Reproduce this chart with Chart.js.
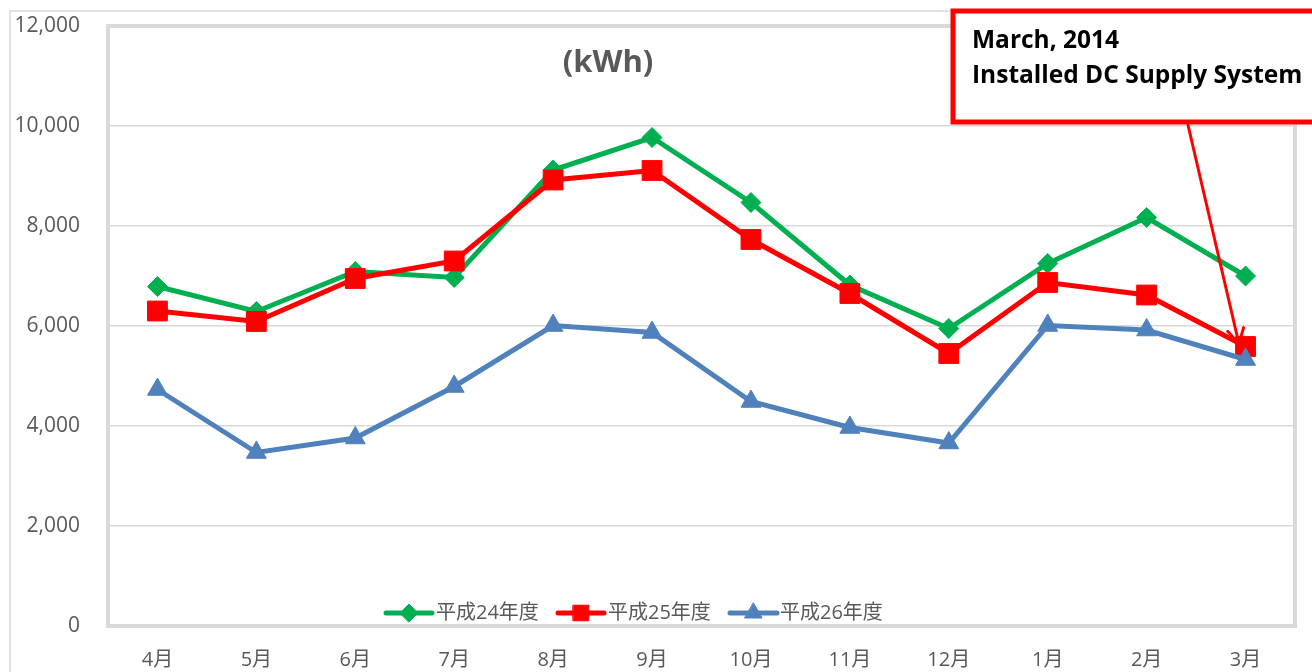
<!DOCTYPE html>
<html>
<head>
<meta charset="utf-8">
<script src="https://cdn.jsdelivr.net/npm/chart.js@4.4.0/dist/chart.umd.min.js"></script>
<style>
  html, body { margin: 0; padding: 0; background: #ffffff; }
  #wrap { width: 1312px; height: 672px; position: relative; }
</style>
</head>
<body>
<div id="wrap"><canvas id="kwhChart" width="1312" height="672"></canvas></div>
<script>
// chart data
const months = ['4月', '5月', '6月', '7月', '8月', '9月', '10月', '11月', '12月', '1月', '2月', '3月'];
const seriesNames = ['平成24年度', '平成25年度', '平成26年度'];
const h24 = [6790, 6290, 7090, 6970, 9120, 9770, 8470, 6820, 5950, 7250, 8170, 7000];
const h25 = [6300, 6090, 6950, 7300, 8920, 9110, 7730, 6650, 5450, 6870, 6620, 5590];
const h26 = [4730, 3470, 3760, 4790, 6010, 5870, 4490, 3970, 3660, 6010, 5920, 5330];
const yTicks = [0, 2000, 4000, 6000, 8000, 10000, 12000];
const unitLabel = '(kWh)';
const noteLines = ['March, 2014', 'Installed DC Supply System'];

const GREEN = '#00b050';
const RED = '#ff0000';
const BLUE = '#4f81bd';
const GRID = '#d9d9d9';
const TEXT = '#595959';
const FONT = '"Open Sans", "Noto Sans CJK JP", sans-serif';

// extra drawing: plot frame, outer frame, title, legend, note box and arrow
const decorPlugin = {
    id: 'decor',
    beforeDatasetsDraw(chart) {
        const ctx = chart.ctx;
        const a = chart.chartArea;
        ctx.save();
        ctx.strokeStyle = GRID;
        ctx.lineWidth = 4;
        ctx.strokeRect(a.left, a.top, a.right - a.left, a.bottom - a.top);
        ctx.restore();
    },
    afterDraw(chart) {
        const ctx = chart.ctx;
        ctx.save();

        // outer frame
        ctx.strokeStyle = GRID;
        ctx.lineWidth = 1.5;
        ctx.beginPath();
        ctx.moveTo(10, 680);
        ctx.lineTo(10, 11);
        ctx.lineTo(1320, 11);
        ctx.stroke();

        // unit title
        ctx.fillStyle = TEXT;
        ctx.font = 'bold 31px ' + FONT;
        ctx.textAlign = 'center';
        ctx.textBaseline = 'middle';
        ctx.fillText(unitLabel, 608, 63);

        // legend
        const items = [
            { name: seriesNames[0], color: GREEN, style: 'rectRot', r: 9, x0: 386, x1: 432, tx: 436 },
            { name: seriesNames[1], color: RED, style: 'rect', r: 11, x0: 558, x1: 604, tx: 608 },
            { name: seriesNames[2], color: BLUE, style: 'triangle', r: 10, x0: 730, x1: 777, tx: 780 }
        ];
        const ly = 613;
        items.forEach(function(it) {
            ctx.strokeStyle = it.color;
            ctx.lineWidth = 5;
            ctx.lineCap = 'round';
            ctx.beginPath();
            ctx.moveTo(it.x0, ly);
            ctx.lineTo(it.x1, ly);
            ctx.stroke();
            ctx.fillStyle = it.color;
            ctx.lineWidth = 1;
            Chart.helpers.drawPoint(ctx, { pointStyle: it.style, radius: it.r, borderWidth: 1 }, (it.x0 + it.x1) / 2, ly);
            ctx.fillStyle = TEXT;
            ctx.font = '20px ' + FONT;
            ctx.textAlign = 'left';
            ctx.textBaseline = 'middle';
            ctx.fillText(it.name, it.tx, ly);
        });

        // note box
        ctx.fillStyle = '#ffffff';
        ctx.fillRect(953, 11, 400, 111);
        ctx.strokeStyle = RED;
        ctx.lineWidth = 5;
        ctx.lineCap = 'butt';
        ctx.strokeRect(953, 11, 400, 111);
        ctx.fillStyle = '#000000';
        ctx.font = 'bold 24.5px ' + FONT;
        ctx.textAlign = 'left';
        ctx.textBaseline = 'alphabetic';
        ctx.fillText(noteLines[0], 972, 48);
        ctx.fillText(noteLines[1], 972, 83);

        // arrow from the note to the March point
        const tipX = 1239, tipY = 344;
        const fromX = 1188, fromY = 125;
        ctx.strokeStyle = RED;
        ctx.lineWidth = 3;
        ctx.lineCap = 'round';
        ctx.beginPath();
        ctx.moveTo(fromX, fromY);
        ctx.lineTo(tipX, tipY);
        ctx.stroke();
        const ang = Math.atan2(tipY - fromY, tipX - fromX);
        const hl = 17;
        ctx.beginPath();
        ctx.moveTo(tipX - hl * Math.cos(ang - 0.5), tipY - hl * Math.sin(ang - 0.5));
        ctx.lineTo(tipX, tipY);
        ctx.lineTo(tipX - hl * Math.cos(ang + 0.5), tipY - hl * Math.sin(ang + 0.5));
        ctx.stroke();

        ctx.restore();
    }
};

function makeDataset(label, data, color, style, radius, order) {
    return {
        label: label,
        data: data,
        borderColor: color,
        backgroundColor: color,
        borderWidth: 5,
        pointStyle: style,
        pointRadius: radius,
        pointHoverRadius: radius,
        pointBorderWidth: 1,
        pointBackgroundColor: color,
        pointBorderColor: color,
        tension: 0,
        fill: false,
        order: order
    };
}

const ctx = document.getElementById('kwhChart').getContext('2d');
new Chart(ctx, {
    type: 'line',
    data: {
        labels: months,
        datasets: [
            makeDataset(seriesNames[0], h24, GREEN, 'rectRot', 10, 3),
            makeDataset(seriesNames[1], h25, RED, 'rect', 14, 2),
            makeDataset(seriesNames[2], h26, BLUE, 'triangle', 11.5, 1)
        ]
    },
    options: {
        responsive: false,
        animation: false,
        layout: {
            padding: { left: 0, right: 17, top: 26, bottom: 0 }
        },
        scales: {
            x: {
                offset: true,
                grid: { display: false },
                border: { display: false },
                ticks: {
                    color: TEXT,
                    font: { family: FONT, size: 20 },
                    padding: 14,
                    maxRotation: 0
                },
                afterFit: function(scale) {
                    scale.height = 46;
                    scale.paddingLeft = 0;
                    scale.paddingRight = 0;
                }
            },
            y: {
                min: yTicks[0],
                max: yTicks[yTicks.length - 1],
                afterBuildTicks: function(scale) {
                    scale.ticks = yTicks.map(function(v) { return { value: v }; });
                },
                grid: { color: GRID, lineWidth: 1.5, drawTicks: false },
                border: { display: false },
                ticks: {
                    color: TEXT,
                    font: { family: FONT, size: 21 },
                    padding: 28,
                    callback: function(v) { return v.toLocaleString('en-US'); }
                },
                afterFit: function(scale) {
                    scale.width = 108;
                    scale.paddingTop = 0;
                    scale.paddingBottom = 0;
                }
            }
        },
        plugins: {
            legend: { display: false },
            tooltip: { enabled: false }
        }
    },
    plugins: [decorPlugin]
});
</script>
</body>
</html>
